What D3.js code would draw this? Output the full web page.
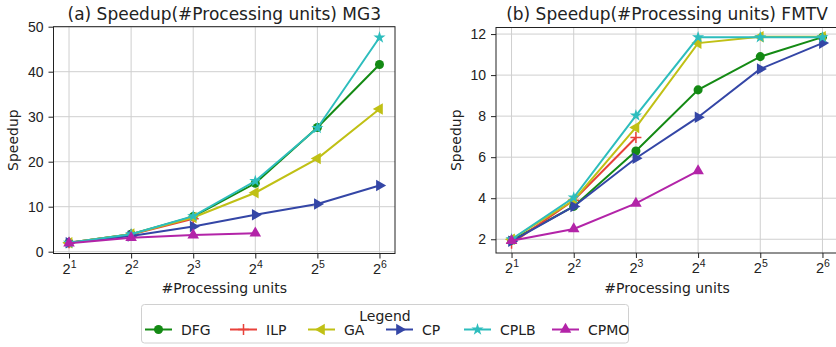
<!DOCTYPE html>
<html>
<head>
<meta charset="utf-8">
<script src="https://cdn.jsdelivr.net/npm/d3@7"></script>
<style>
  html, body { margin: 0; padding: 0; background: #fff; }
  svg { display: block; font-family: "DejaVu Sans", sans-serif; }
</style>
</head>
<body>
<svg id="chart" width="836" height="347"></svg>
<script>
// x values (#processing units) and exponents used for the tick labels
const units = [2, 4, 8, 16, 32, 64];
const exponents = [1, 2, 3, 4, 5, 6];

const seriesNames = ['DFG', 'ILP', 'GA', 'CP', 'CPLB', 'CPMO'];

// (a) MG3 speedups
const mg3DFG  = [2.0, 3.9, 7.8, 15.2, 27.6, 41.6];
const mg3ILP  = [2.0, 3.8, 7.3];
const mg3GA   = [2.0, 3.9, 7.6, 13.1, 20.7, 31.7];
const mg3CP   = [2.0, 3.5, 5.6, 8.2, 10.6, 14.7];
const mg3CPLB = [2.0, 3.9, 7.9, 15.7, 27.5, 47.6];
const mg3CPMO = [1.9, 3.1, 3.7, 4.1];

// (b) FMTV speedups
const fmtvDFG  = [1.95, 3.6, 6.3, 9.28, 10.9, 11.85];
const fmtvILP  = [1.8, 3.9, 6.96];
const fmtvGA   = [2.0, 3.9, 7.45, 11.56, 11.87, 11.87];
const fmtvCP   = [1.9, 3.6, 5.95, 7.95, 10.3, 11.56];
const fmtvCPLB = [2.0, 4.03, 8.03, 11.84, 11.84, 11.84];
const fmtvCPMO = [1.93, 2.5, 3.75, 5.33];

const mg3Ticks = [0, 10, 20, 30, 40, 50];
const fmtvTicks = [2, 4, 6, 8, 10, 12];

const colors = {
  DFG: '#148a14', ILP: '#e8413a', GA: '#c0c015',
  CP: '#3446a6', CPLB: '#2dbdbd', CPMO: '#b324a8'
};

const svg = d3.select('#chart');

// marker shapes, roughly matching matplotlib o + < > * ^
function marker(g, name, color) {
  if (name === 'ILP') {
    g.append('path').attr('d', 'M-5.5,0H5.5M0,-5.5V5.5')
      .attr('stroke', color).attr('stroke-width', 1.5).attr('fill', 'none');
    return;
  }
  let sym, size, rot = 0;
  if (name === 'DFG') { sym = d3.symbolCircle; size = 64; }
  else if (name === 'GA') { sym = d3.symbolTriangle; size = 58; rot = -90; }
  else if (name === 'CP') { sym = d3.symbolTriangle; size = 58; rot = 90; }
  else if (name === 'CPLB') { sym = d3.symbolStar; size = 46; }
  else { sym = d3.symbolTriangle; size = 58; }
  g.append('path').attr('d', d3.symbol().type(sym).size(size)())
    .attr('transform', rot ? `rotate(${rot})` : null)
    .attr('fill', color);
}

function drawPanel(opt) {
  const { left, right, top, bottom, yDomain, yTicks, series, title } = opt;
  const x = d3.scaleLog().base(2)
    .domain([Math.pow(2, 0.75), Math.pow(2, 6.25)])
    .range([left, right]);
  const y = d3.scaleLinear().domain(yDomain).range([bottom, top]);

  const g = svg.append('g');

  // grid
  g.append('g').selectAll('line').data(units).join('line')
    .attr('x1', d => x(d)).attr('x2', d => x(d))
    .attr('y1', top).attr('y2', bottom)
    .attr('stroke', '#cfcfcf').attr('stroke-width', 1);
  g.append('g').selectAll('line').data(yTicks).join('line')
    .attr('x1', left).attr('x2', right)
    .attr('y1', d => y(d)).attr('y2', d => y(d))
    .attr('stroke', '#cfcfcf').attr('stroke-width', 1);

  // axes
  const xAxis = g.append('g')
    .attr('transform', `translate(0,${bottom})`)
    .call(d3.axisBottom(x).tickValues(units).tickSize(5).tickPadding(4).tickFormat(() => ''));
  xAxis.select('.domain').remove();
  xAxis.selectAll('.tick line').attr('stroke', '#222').attr('stroke-width', 1);
  xAxis.selectAll('.tick text').each(function(d, i) {
    const t = d3.select(this)
      .attr('fill', '#222').style('font-size', '14.5px')
      .attr('y', 20).attr('dy', 0);
    t.append('tspan').text('2');
    t.append('tspan').attr('dy', -6).style('font-size', '10.5px').text(exponents[i]);
  });

  const yAxis = g.append('g')
    .attr('transform', `translate(${left},0)`)
    .call(d3.axisLeft(y).tickValues(yTicks).tickSize(5).tickPadding(5));
  yAxis.select('.domain').remove();
  yAxis.selectAll('.tick line').attr('stroke', '#222');
  yAxis.selectAll('.tick text').attr('fill', '#222').style('font-size', '14px');

  // frame
  g.append('rect').attr('x', left).attr('y', top)
    .attr('width', right - left).attr('height', bottom - top)
    .attr('fill', 'none').attr('stroke', '#222').attr('stroke-width', 1);

  // series
  const line = d3.line().x((d, i) => x(units[i])).y(d => y(d));
  const plot = g.append('g');
  series.forEach(([name, vals]) => {
    plot.append('path').datum(vals)
      .attr('d', line).attr('fill', 'none')
      .attr('stroke', colors[name]).attr('stroke-width', 2);
    vals.forEach((v, i) => {
      const m = plot.append('g').attr('transform', `translate(${x(units[i])},${y(v)})`);
      marker(m, name, colors[name]);
    });
  });

  // titles and labels
  const cx = (left + right) / 2;
  g.append('text').attr('x', cx).attr('y', 20).attr('text-anchor', 'middle')
    .style('font-size', '17px').attr('fill', '#222').text(title);
  g.append('text').attr('x', cx).attr('y', 293).attr('text-anchor', 'middle')
    .style('font-size', '14px').attr('fill', '#222').text('#Processing units');
  g.append('text')
    .attr('transform', `translate(${opt.labelX},${(top + bottom) / 2}) rotate(-90)`)
    .attr('text-anchor', 'middle').attr('dy', '0.35em')
    .style('font-size', '14px').attr('fill', '#222').text('Speedup');
}

drawPanel({
  left: 53.5, right: 395, top: 26.7, bottom: 253.5,
  yDomain: [-0.4, 50], yTicks: mg3Ticks, labelX: 13,
  title: '(a) Speedup(#Processing units) MG3',
  series: [['DFG', mg3DFG], ['ILP', mg3ILP], ['GA', mg3GA], ['CP', mg3CP], ['CPLB', mg3CPLB], ['CPMO', mg3CPMO]]
});

drawPanel({
  left: 496, right: 838, top: 27.5, bottom: 253,
  yDomain: [1.33, 12.32], yTicks: fmtvTicks, labelX: 456,
  title: '(b) Speedup(#Processing units) FMTV',
  series: [['DFG', fmtvDFG], ['ILP', fmtvILP], ['GA', fmtvGA], ['CP', fmtvCP], ['CPLB', fmtvCPLB], ['CPMO', fmtvCPMO]]
});

// legend
const legend = svg.append('g');
legend.append('rect').attr('x', 141.5).attr('y', 304.5).attr('width', 487).attr('height', 38.5)
  .attr('rx', 3).attr('fill', '#fff').attr('stroke', '#d0d0d0');
legend.append('text').attr('x', 385).attr('y', 321).attr('text-anchor', 'middle')
  .style('font-size', '14px').attr('fill', '#222').text('Legend');
const handleX = [145, 230, 308, 386, 464, 552];
seriesNames.forEach((name, i) => {
  const hx = handleX[i];
  const e = legend.append('g');
  e.append('line').attr('x1', hx).attr('x2', hx + 27).attr('y1', 329.5).attr('y2', 329.5)
    .attr('stroke', colors[name]).attr('stroke-width', 2);
  marker(e.append('g').attr('transform', `translate(${hx + 13.5},329.5)`), name, colors[name]);
  e.append('text').attr('x', hx + 36).attr('y', 334.5)
    .style('font-size', '14px').attr('fill', '#222').text(name);
});
</script>
</body>
</html>
